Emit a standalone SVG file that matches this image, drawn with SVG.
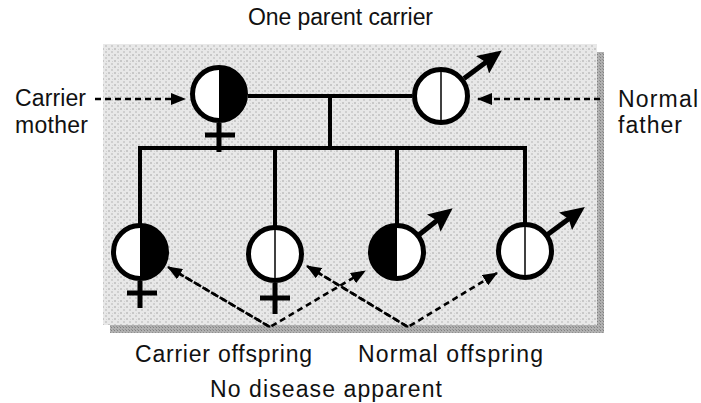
<svg xmlns="http://www.w3.org/2000/svg" width="701" height="403" viewBox="0 0 701 403">
<style>
  .txt{font-family:"Liberation Sans",Arial,sans-serif;font-size:23px;fill:#111}
  .ring{fill:none;stroke:#000;stroke-width:5}
  .white{fill:#fff}
  .half{fill:#000}
  .mid{stroke:#000;stroke-width:1.5}
  .line{stroke:#000;stroke-width:4;fill:none}
  .sym{stroke:#000;stroke-width:5;fill:none}
  .dash{stroke:#000;stroke-width:2.6;stroke-dasharray:6 4;fill:none}
</style>
<defs>
  <pattern id="stip" width="6" height="6" patternUnits="userSpaceOnUse">
    <rect width="6" height="6" fill="#e8e8e8"/>
    <rect x="0" y="0" width="2" height="2" fill="#c8c8c8"/>
    <rect x="3" y="3" width="2" height="2" fill="#cfcfcf"/>
    <rect x="4" y="1" width="1" height="1" fill="#d2d2d2"/>
  </pattern>
  <pattern id="shad" width="3" height="3" patternUnits="userSpaceOnUse">
    <rect width="3" height="3" fill="#b0b0b0"/>
    <rect width="1" height="1" fill="#808080"/>
    <rect x="2" y="2" width="1" height="1" fill="#909090"/>
  </pattern>
  <marker id="male" viewBox="0 0 24 22" refX="13" refY="11" markerWidth="24" markerHeight="22" markerUnits="userSpaceOnUse" orient="auto">
    <path d="M0,0 L24,11 L0,22 L4,11 z" fill="#000"/>
  </marker>
  <marker id="ah" viewBox="0 0 15 12" refX="14" refY="6" markerWidth="15" markerHeight="12" markerUnits="userSpaceOnUse" orient="auto">
    <path d="M0,0 L15,6 L0,12 z" fill="#000"/>
  </marker>
</defs>

<g id="background">
  <rect x="110" y="325" width="494" height="8" fill="url(#shad)"/>
  <rect x="597" y="52" width="7" height="281" fill="url(#shad)"/>
  <rect x="103" y="44" width="494" height="281" fill="url(#stip)"/>
</g>

<g id="connectors">
  <line class="line" x1="248" y1="96" x2="412" y2="96"/>
  <line class="line" x1="330" y1="96" x2="330" y2="148"/>
  <line class="line" x1="138" y1="148" x2="527" y2="148"/>
  <line class="line" x1="140" y1="148" x2="140" y2="224"/>
  <line class="line" x1="275" y1="148" x2="275" y2="226"/>
  <line class="line" x1="397" y1="148" x2="397" y2="224"/>
  <line class="line" x1="525" y1="148" x2="525" y2="223"/>
  <line class="dash" x1="95" y1="99" x2="185" y2="99" marker-end="url(#ah)"/>
  <line class="dash" x1="600" y1="99" x2="478" y2="99" marker-end="url(#ah)"/>
  <polyline class="dash" points="168,267 270,327 365,271" marker-end="url(#ah)"/>
  <line class="dash" x1="270" y1="327" x2="168" y2="267" marker-end="url(#ah)"/>
  <polyline class="dash" points="307,266 408,327 497,273" marker-end="url(#ah)"/>
  <line class="dash" x1="408" y1="327" x2="307" y2="266" marker-end="url(#ah)"/>
</g>

<g id="carrier-mother">
  <circle class="white" cx="219" cy="94" r="26.5"/>
  <path class="half" d="M219,67.5 A26.5,26.5 0 0 1 219,120.5 Z"/>
  <circle class="ring" cx="219" cy="94" r="26.5"/>
  <line class="sym" x1="219" y1="123" x2="219" y2="152"/>
  <line class="sym" x1="205" y1="135" x2="235" y2="135"/>
</g>

<g id="normal-father">
  <circle class="white" cx="441" cy="96" r="26.5"/>
  <line class="mid" x1="441" y1="69.5" x2="441" y2="122.5"/>
  <circle class="ring" cx="441" cy="96" r="26.5"/>
  <line class="sym" x1="464" y1="78.5" x2="493" y2="57" marker-end="url(#male)"/>
</g>

<g id="carrier-daughter">
  <circle class="white" cx="140" cy="252" r="26.5"/>
  <path class="half" d="M140,225.5 A26.5,26.5 0 0 1 140,278.5 Z"/>
  <circle class="ring" cx="140" cy="252" r="26.5"/>
  <line class="sym" x1="140" y1="281" x2="140" y2="308"/>
  <line class="sym" x1="127" y1="293" x2="157" y2="293"/>
</g>

<g id="normal-daughter">
  <circle class="white" cx="275" cy="254" r="26.5"/>
  <line class="mid" x1="275" y1="227.5" x2="275" y2="280.5"/>
  <circle class="ring" cx="275" cy="254" r="26.5"/>
  <line class="sym" x1="275" y1="283" x2="275" y2="314"/>
  <line class="sym" x1="260" y1="298" x2="290" y2="298"/>
</g>

<g id="carrier-son">
  <circle class="white" cx="397" cy="252" r="26.5"/>
  <path class="half" d="M397,225.5 A26.5,26.5 0 0 0 397,278.5 Z"/>
  <circle class="ring" cx="397" cy="252" r="26.5"/>
  <line class="sym" x1="419" y1="234.7" x2="444" y2="215" marker-end="url(#male)"/>
</g>

<g id="normal-son">
  <circle class="white" cx="525" cy="251" r="26.5"/>
  <line class="mid" x1="525" y1="224.5" x2="525" y2="277.5"/>
  <circle class="ring" cx="525" cy="251" r="26.5"/>
  <line class="sym" x1="547.6" y1="234.4" x2="576" y2="213.6" marker-end="url(#male)"/>
</g>

<g id="labels">
  <text class="txt" x="248" y="25" textLength="185">One parent carrier</text>
  <text class="txt" x="15" y="106" textLength="71">Carrier</text>
  <text class="txt" x="15" y="133" textLength="73">mother</text>
  <text class="txt" x="618" y="107" textLength="80">Normal</text>
  <text class="txt" x="618" y="133" textLength="64">father</text>
  <text class="txt" x="135" y="362" textLength="177">Carrier offspring</text>
  <text class="txt" x="358" y="362" textLength="185">Normal offspring</text>
  <text class="txt" x="210" y="397" textLength="232">No disease apparent</text>
</g>
</svg>
